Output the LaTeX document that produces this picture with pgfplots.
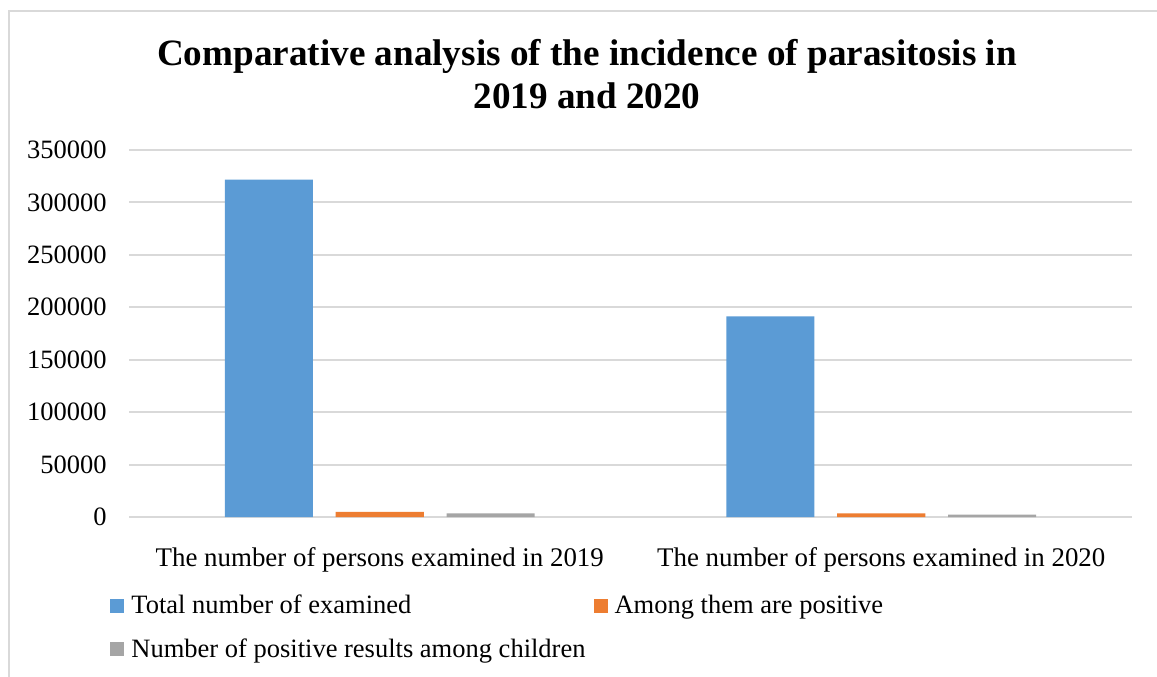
\documentclass[border=0pt]{standalone}
\usepackage{pgfplots}
\pgfplotsset{compat=1.18}
\usepackage{fontspec}
\setmainfont{Liberation Serif}

\definecolor{cblue}{HTML}{5B9BD5}
\definecolor{corange}{HTML}{ED7D31}
\definecolor{cgray}{HTML}{A5A5A5}
\definecolor{cgrid}{HTML}{D9D9D9}

\begin{document}
\begin{tikzpicture}
% page frame: 1px of the reference = 0.5bp
\useasboundingbox (0,0) rectangle (578.5bp,-338.5bp);
\draw[cgrid, line width=1bp] (4.5bp,-338.5bp) -- (4.5bp,-5.5bp) -- (578.5bp,-5.5bp);

\node[font=\fontsize{18.65}{21}\selectfont\bfseries, anchor=base] at (293.5bp,-32.5bp)
  {Comparative analysis of the incidence of parasitosis in};
\node[font=\fontsize{18.65}{21}\selectfont\bfseries, anchor=base] at (293.5bp,-54bp)
  {2019 and 2020};

\begin{axis}[
    at={(64.5bp,-258.5bp)}, anchor=south west,
    scale only axis,
    width=501.5bp, height=183.5bp,
    xmin=-0.5, xmax=1.5,
    ymin=0, ymax=350000,
    ytick distance=50000,
    xtick={0,1},
    xticklabels={The number of persons examined in 2019,The number of persons examined in 2020},
    scaled y ticks=false,
    ticklabel style={font=\fontsize{13.3}{15}\selectfont},
    yticklabel style={inner sep=0pt, xshift=-11bp,
        /pgf/number format/fixed,
        /pgf/number format/1000 sep={},
        /pgf/number format/assume math mode=true},
    xticklabel style={inner sep=0pt, anchor=base, yshift=-20.5bp,
        font=\fontsize{13.5}{15}\selectfont},
    axis line style={draw=none},
    tick style={draw=none},
    ymajorgrids,
    grid style={cgrid, line width=1bp},
    ybar,
    bar width=0.1755,
    legend columns=2,
    legend cell align=left,
    legend style={
        at={(-0.0189,-0.2108)}, anchor=north west,
        draw=none, fill=none, inner sep=0pt,
        font=\fontsize{13.3}{15}\selectfont,
        row sep=11bp, column sep=0pt,
        nodes={inner sep=0pt},
        /tikz/every odd column/.append style={column sep=3.5bp},
        /tikz/every even column/.append style={column sep=4bp},
    },
    legend image code/.code={\fill[#1] (0bp,-3.5bp) rectangle (7bp,3.5bp);},
]
\addplot[fill=cblue, draw=none, bar shift=-0.2213] coordinates {(0,321700) (1,191400)};
\addplot[fill=corange, draw=none, bar shift=0] coordinates {(0,4800) (1,3500)};
\addplot[fill=cgray, draw=none, bar shift=0.2213] coordinates {(0,3500) (1,2200)};
\legend{Total number of examined,Among them are positive,Number of positive results among children}
\end{axis}
\end{tikzpicture}
\end{document}
